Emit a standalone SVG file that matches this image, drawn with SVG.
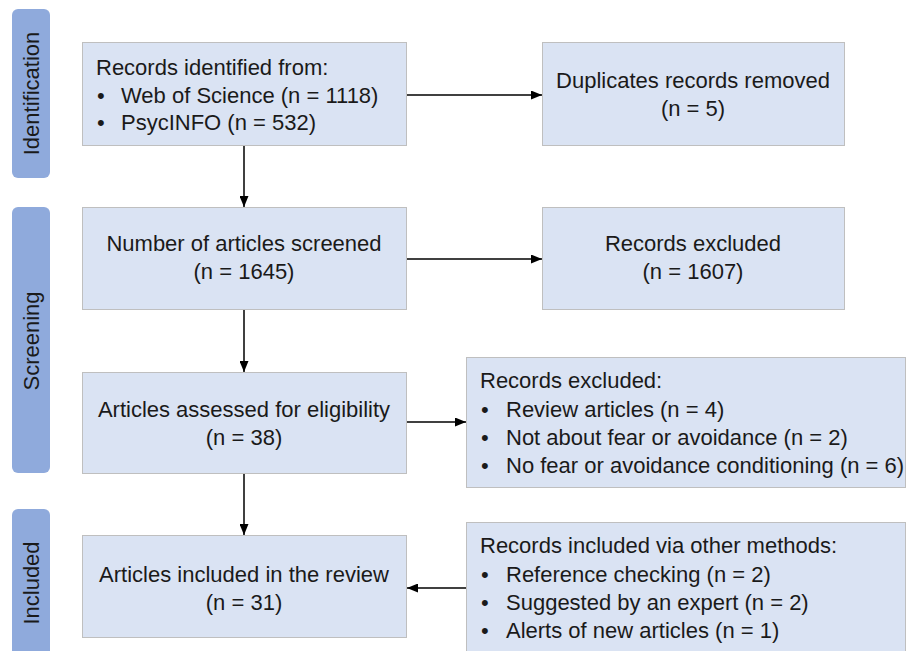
<svg xmlns="http://www.w3.org/2000/svg" width="909" height="651" viewBox="0 0 909 651">
<defs>
<style>
.bar{fill:#8faadc;}
.box{fill:#dae3f3;stroke:#bfbfbf;stroke-width:1;}
text{font-family:"Liberation Sans",Arial,sans-serif;font-size:22px;fill:#1a1a1a;}
.c{text-anchor:middle;}
.edge{stroke:#000;stroke-width:1.5;fill:none;marker-end:url(#ah);}
</style>
<marker id="ah" viewBox="0 0 10 10" refX="10" refY="5" markerWidth="11" markerHeight="9" markerUnits="userSpaceOnUse" orient="auto" preserveAspectRatio="none">
<path d="M0,0 L10,5 L0,10 z" fill="#000"/>
</marker>
</defs>
<rect width="909" height="651" fill="#fff"/>

<g id="bar-identification">
<rect class="bar" x="12" y="9" width="38" height="169" rx="6"/>
<text class="c" transform="translate(39,93.5) rotate(-90)">Identification</text>
</g>
<g id="bar-screening">
<rect class="bar" x="12" y="207" width="38" height="266" rx="6"/>
<text class="c" transform="translate(39,341) rotate(-90)">Screening</text>
</g>
<g id="bar-included">
<rect class="bar" x="12" y="509" width="38" height="160" rx="6"/>
<text class="c" transform="translate(39,583) rotate(-90)">Included</text>
</g>

<g id="identified">
<rect class="box" x="82.5" y="42.5" width="324" height="103"/>
<text x="96" y="75">Records identified from:</text>
<text x="97" y="103">•</text><text x="121" y="103">Web of Science (n = 1118)</text>
<text x="97" y="130">•</text><text x="121" y="130">PsycINFO (n = 532)</text>
</g>
<g id="duplicates">
<rect class="box" x="542.5" y="42.5" width="302" height="103"/>
<text class="c" x="693" y="88">Duplicates records removed</text>
<text class="c" x="693" y="116">(n = 5)</text>
</g>
<g id="screened">
<rect class="box" x="82.5" y="207.5" width="324" height="102"/>
<text class="c" x="244" y="251">Number of articles screened</text>
<text class="c" x="244" y="279">(n = 1645)</text>
</g>
<g id="excluded1">
<rect class="box" x="542.5" y="207.5" width="302" height="102"/>
<text class="c" x="693" y="251">Records excluded</text>
<text class="c" x="693" y="279">(n = 1607)</text>
</g>
<g id="assessed">
<rect class="box" x="82.5" y="372.5" width="324" height="101"/>
<text class="c" x="244" y="417">Articles assessed for eligibility</text>
<text class="c" x="244" y="445">(n = 38)</text>
</g>
<g id="excluded2">
<rect class="box" x="466.5" y="357.5" width="439" height="130"/>
<text x="480" y="388">Records excluded:</text>
<text x="481" y="417">•</text><text x="506" y="417">Review articles (n = 4)</text>
<text x="481" y="445">•</text><text x="506" y="445">Not about fear or avoidance (n = 2)</text>
<text x="481" y="473">•</text><text x="506" y="473">No fear or avoidance conditioning (n = 6)</text>
</g>
<g id="included">
<rect class="box" x="82.5" y="535.5" width="324" height="102"/>
<text class="c" x="244" y="582">Articles included in the review</text>
<text class="c" x="244" y="610">(n = 31)</text>
</g>
<g id="other-methods">
<rect class="box" x="466.5" y="522.5" width="439" height="140"/>
<text x="480" y="553">Records included via other methods:</text>
<text x="481" y="582">•</text><text x="506" y="582">Reference checking (n = 2)</text>
<text x="481" y="610">•</text><text x="506" y="610">Suggested by an expert (n = 2)</text>
<text x="481" y="638">•</text><text x="506" y="638">Alerts of new articles (n = 1)</text>
</g>

<g id="connectors">
<path class="edge" d="M407,95 H542"/>
<path class="edge" d="M244,146 V207"/>
<path class="edge" d="M407,259 H542"/>
<path class="edge" d="M244,310 V372"/>
<path class="edge" d="M407,422 H466"/>
<path class="edge" d="M244,474 V535"/>
<path class="edge" d="M466,588 H407"/>
</g>
</svg>
